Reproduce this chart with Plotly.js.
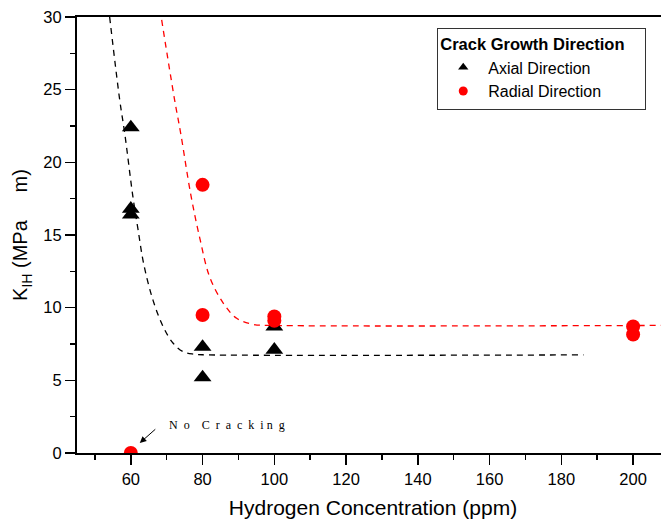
<!DOCTYPE html>
<html>
<head>
<meta charset="utf-8">
<script src="https://cdn.plot.ly/plotly-3.0.1.min.js"></script>
<style>
html, body { margin: 0; padding: 0; overflow: hidden; background: #fff; }
#chart { width: 680px; height: 527px; }
</style>
</head>
<body>
<div id="chart"></div>
<script>
// Measured data
const axialX = [60, 60, 60, 80, 80, 100, 100];
const axialY = [22.4, 16.8, 16.4, 7.3, 5.2, 8.7, 7.1];
const radialX = [60, 80, 80, 100, 100, 200, 200];
const radialY = [0, 18.45, 9.5, 9.4, 9.1, 8.7, 8.15];

// Fitted curves
const axialFitX = [54.1, 56.9, 58.3, 60.6, 62.0, 63.6, 66.2, 69.0, 71.8, 74.6, 77.5, 80.0, 186.2];
const axialFitY = [30.0, 24.3, 22.0, 17.6, 15.4, 13.0, 10.5, 8.7, 7.55, 6.97, 6.8, 6.76, 6.75];
const radialFitX = [68.6, 72.2, 73.9, 76.7, 79.3, 82.0, 85.8, 89.5, 94.1, 100, 210];
const radialFitY = [29.8, 24.3, 22.0, 17.8, 14.7, 12.1, 10.3, 9.27, 8.85, 8.78, 8.78];

const xTickVals = [60, 80, 100, 120, 140, 160, 180, 200];
const yTickVals = [0, 5, 10, 15, 20, 25, 30];

const legendTitle = 'Crack Growth Direction';
const axialName = 'Axial Direction';
const radialName = 'Radial Direction';
const noteText = 'N  o    C  r  a  c  k  i n  g';

const traces = [
  { x: axialFitX, y: axialFitY, mode: 'lines', line: { shape: 'spline', smoothing: 1, color: '#000', width: 1.3, dash: '6px,5px' }, showlegend: false, hoverinfo: 'skip' },
  { x: radialFitX, y: radialFitY, mode: 'lines', line: { shape: 'spline', smoothing: 1, color: '#ff0000', width: 1.3, dash: '6px,5px' }, showlegend: false, hoverinfo: 'skip' },
  { x: axialX, y: axialY, mode: 'markers', marker: { symbol: 'triangle-up', size: 15.5, color: '#000' }, showlegend: false },
  { x: radialX, y: radialY, mode: 'markers', marker: { symbol: 'circle', size: 14, color: '#ff0000' }, showlegend: false },
  { x: [null], y: [null], mode: 'markers', name: axialName, marker: { symbol: 'triangle-up', size: 9, color: '#000' } },
  { x: [null], y: [null], mode: 'markers', name: radialName, marker: { symbol: 'circle', size: 9, color: '#ff0000' } }
];

const layout = {
  width: 680, height: 527,
  margin: { l: 77, r: 11, t: 17, b: 74 },
  paper_bgcolor: '#fff', plot_bgcolor: '#fff',
  font: { family: 'Liberation Sans, Arial, sans-serif', color: '#000', size: 16.5 },
  xaxis: {
    range: [45, 210], tickvals: xTickVals, ticks: 'outside', ticklen: 10, tickwidth: 1.5, tickcolor: '#000',
    showline: true, linewidth: 2, linecolor: '#000', mirror: true, showgrid: false, zeroline: false,
    tickfont: { size: 16.5 },
    minor: { dtick: 10, tick0: 0, ticks: 'outside', ticklen: 5, tickwidth: 1.5, tickcolor: '#000', showgrid: false },
    title: { text: 'Hydrogen Concentration (ppm)', font: { size: 21 }, standoff: 14 }
  },
  yaxis: {
    range: [0, 30], tickvals: yTickVals, ticks: 'outside', ticklen: 10, tickwidth: 1.5, tickcolor: '#000',
    showline: true, linewidth: 2, linecolor: '#000', mirror: false, showgrid: false, zeroline: false,
    tickfont: { size: 16.5 },
    minor: { dtick: 2.5, tick0: 0, ticks: 'outside', ticklen: 5, tickwidth: 1.5, tickcolor: '#000', showgrid: false },
    title: { text: 'K<sub>IH</sub> (MPa     m)', font: { size: 20 }, standoff: 10 }
  },
  legend: {
    x: 0.6085, y: 0.975, xanchor: 'left', yanchor: 'top',
    bgcolor: '#fff', bordercolor: '#333', borderwidth: 1,
    font: { size: 16 }, itemwidth: 40, tracegroupgap: 0,
    title: { text: '<b>' + legendTitle + '</b>\u00a0\u00a0\u00a0\u00a0', font: { size: 16.5 } }
  },
  annotations: [
    { x: 62.5, y: 0.69, xref: 'x', yref: 'y', text: '', showarrow: true, arrowhead: 2, arrowsize: 1.3, arrowwidth: 1, arrowcolor: '#000', ax: 17, ay: -15 },
    { x: 70.0, y: 1.93, xref: 'x', yref: 'y', text: noteText, showarrow: false, xanchor: 'left', yanchor: 'middle', font: { family: 'Liberation Serif, Times New Roman, serif', size: 12, color: '#000' } }
  ],
  showlegend: true
};

Plotly.newPlot('chart', traces, layout, { displayModeBar: false, staticPlot: true });
</script>
</body>
</html>
